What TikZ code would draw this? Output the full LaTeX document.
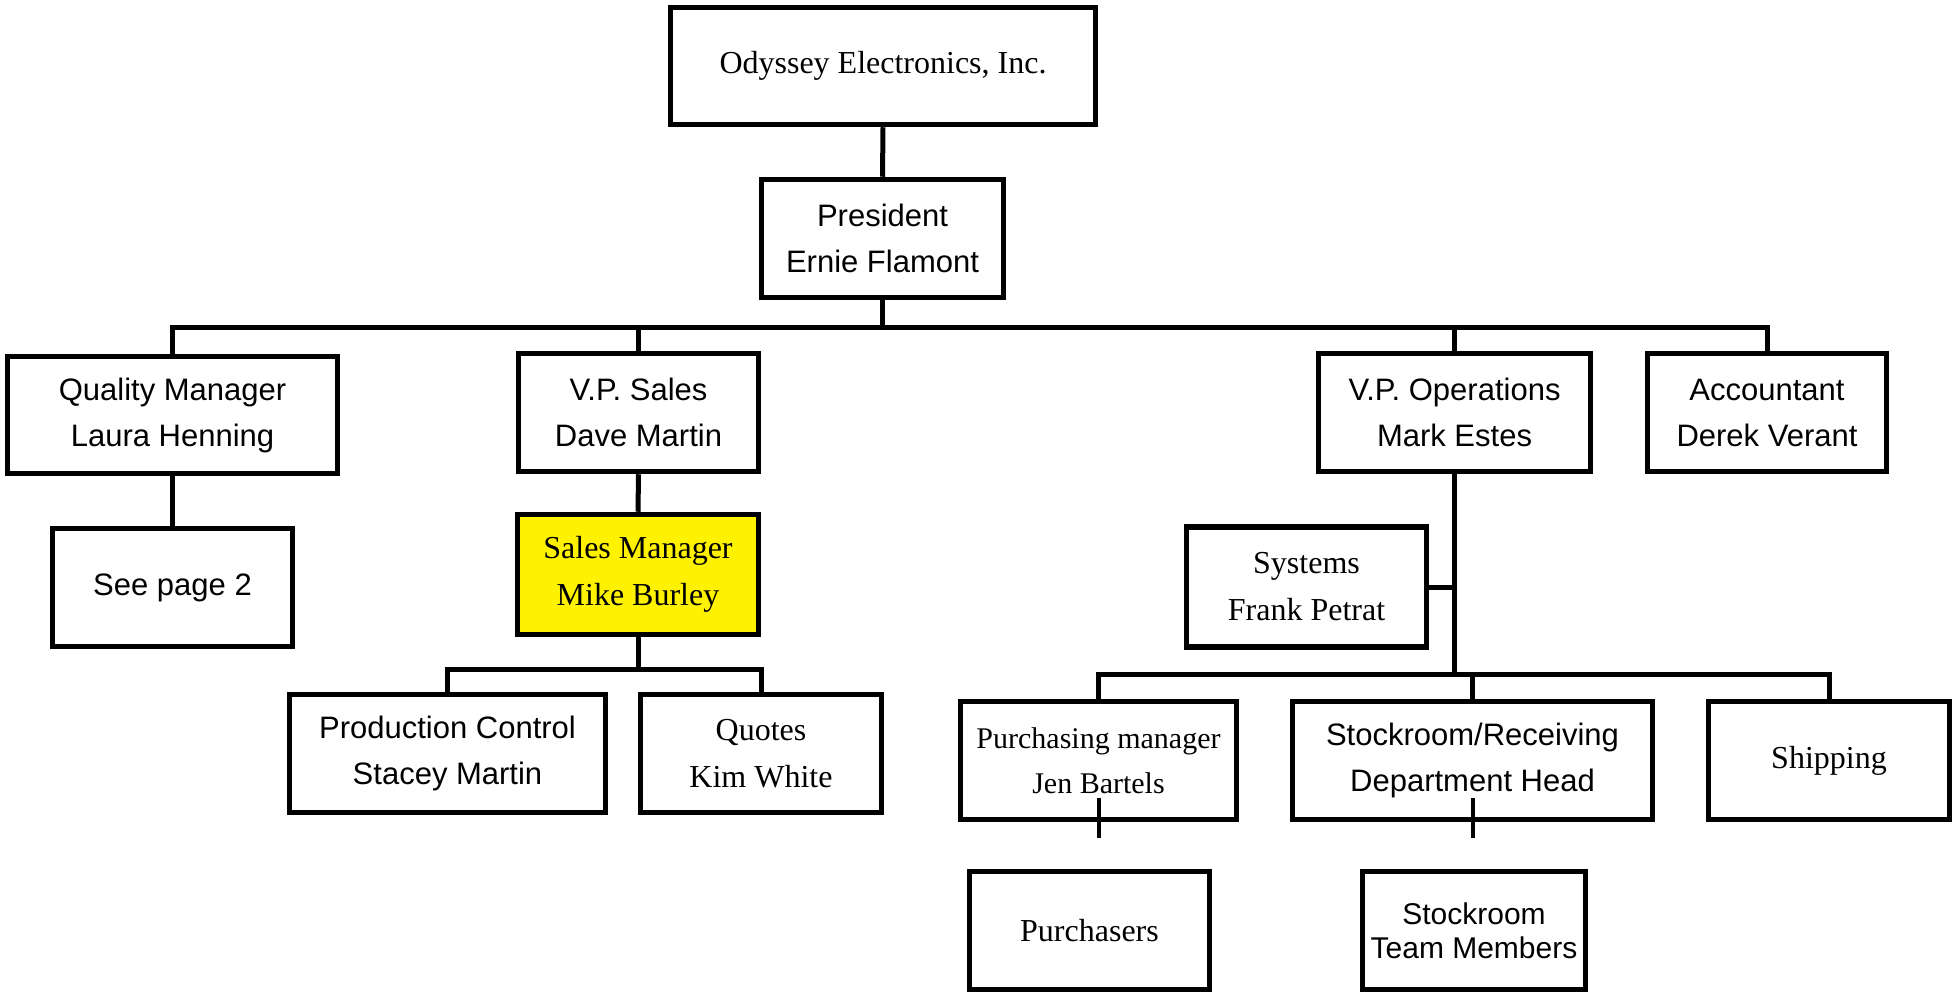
\documentclass[tikz,border=0pt]{standalone}
\usepackage{fontspec}
\setmainfont{Liberation Serif}
\newfontfamily\sansf{Liberation Sans}
\usetikzlibrary{calc}
\tikzset{
  unit/.style={draw, line width=5.5pt, align=center, inner sep=0pt, fill=white},
  serifbox/.style={unit, font=\fontsize{32}{47}\selectfont},
  sansbox/.style={unit, font=\sansf\fontsize{31}{46}\selectfont},
  link/.style={line width=5pt},
  stub/.style={line width=4pt},
}
\begin{document}
\begin{tikzpicture}[x=1pt, y=-1pt]
\useasboundingbox (0,0) rectangle (1954,995);

% top of the chart
\node[serifbox, minimum width=425, minimum height=117] (ody) at (883,66) {Odyssey Electronics, Inc.};
\node[sansbox, minimum width=242, minimum height=118] (pres) at (882.5,238.5) {President\\Ernie Flamont};

% first reporting level
\node[sansbox, minimum width=330, minimum height=117] (qual) at (172.5,415) {Quality Manager\\Laura Henning};
\node[sansbox, minimum width=240, minimum height=118] (vps) at (638.5,412.5) {V.P. Sales\\Dave Martin};
\node[sansbox, minimum width=272, minimum height=118] (vpo) at (1454.5,412.5) {V.P. Operations\\Mark Estes};
\node[sansbox, minimum width=239, minimum height=118] (acc) at (1767,412.5) {Accountant\\Derek Verant};

% quality and sales branches
\node[sansbox, minimum width=240, minimum height=118] (see) at (172.5,587.5) {See page 2};
\node[serifbox, fill=yellow, minimum width=241, minimum height=120] (sm) at (638,574.5) {Sales Manager\\Mike Burley};
\node[sansbox, minimum width=316, minimum height=118] (pc) at (447.5,753.5) {Production Control\\Stacey Martin};
\node[serifbox, minimum width=241, minimum height=118] (quo) at (761,753.5) {Quotes\\Kim White};

% operations branch
\node[serifbox, minimum width=240, minimum height=120] (sys) at (1306.5,587) {Systems\\Frank Petrat};
\node[serifbox, font=\fontsize{30}{45}\selectfont, minimum width=276, minimum height=118] (pur) at (1098.5,760.5) {Purchasing manager\\Jen Bartels};
\node[sansbox, minimum width=360, minimum height=118] (stk) at (1472.5,760.5) {Stockroom/Receiving\\Department Head};
\node[serifbox, minimum width=241, minimum height=118] (shp) at (1829,760.5) {Shipping};
\node[serifbox, minimum width=240, minimum height=118] (purs) at (1089.5,930.5) {Purchasers};
\node[sansbox, font=\sansf\fontsize{30}{34}\selectfont, minimum width=223, minimum height=118] (team) at (1474,930.5) {Stockroom\\Team Members};

% bus lines
\coordinate (bus) at (0,327);
\coordinate (salesbus) at (0,669);
\coordinate (opsbus) at (0,674);

\draw[link] (ody.south) -- (pres.north);
\draw[link] (pres.south) -- (pres.south |- bus);
\draw[link] (qual.north) -- (qual.north |- bus) -| (acc.north);
\draw[link] (vps.north) -- (vps.north |- bus);
\draw[link] (vpo.north) -- (vpo.north |- bus);

\draw[link] (qual.south) -- (see.north);
\draw[link] (vps.south) -- (sm.north);
\draw[link] (sm.south) -- (sm.south |- salesbus);
\draw[link] (pc.north) -- (pc.north |- salesbus) -| (quo.north);

\draw[link] (vpo.south) -- (vpo.south |- opsbus);
\draw[link] (sys.east) -- (sys.east -| vpo.south);
\draw[link] (pur.north) -- (pur.north |- opsbus) -| (shp.north);
\draw[link] (stk.north) -- (stk.north |- opsbus);

% short stubs below the purchasing and stockroom boxes
\coordinate (pstubtop) at ([yshift=24pt]pur.south);
\coordinate (pstubend) at ([yshift=-16pt]pur.south);
\coordinate (sstubtop) at ([yshift=24pt]stk.south);
\coordinate (sstubend) at ([yshift=-16pt]stk.south);
\draw[stub] (pstubtop) -- (pstubend);
\draw[stub] (sstubtop) -- (sstubend);
\end{tikzpicture}
\end{document}
